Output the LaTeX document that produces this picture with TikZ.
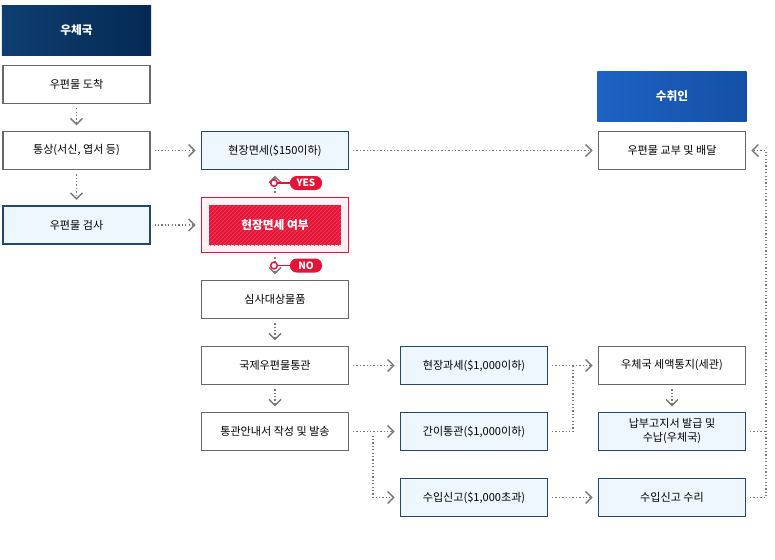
\documentclass[tikz,border=0pt]{standalone}
\usepackage{fontspec}
\setmainfont{Noto Sans CJK KR}
\usetikzlibrary{arrows.meta,patterns}

\begin{document}
\begin{tikzpicture}[x=0.75pt,y=-0.75pt,
  every node/.style={font=\fontsize{8.3}{10.5}\selectfont},
  plainbox/.style={draw=boxgray,line width=1.1pt,fill=white,minimum width=110pt,minimum height=28.5pt,inner sep=0pt,align=center},
  bluebox/.style={plainbox,draw=boxnavy,fill=paleblue},
  headbox/.style={minimum width=112pt,minimum height=37pt,inner sep=0pt,text=white,font=\fontsize{8.8}{10.5}\selectfont\bfseries},
  dotline/.style={draw=dotgray,line width=0.95pt,dash pattern=on 0.95pt off 1.6pt,shorten <=3pt},
  flow/.style={dotline,-{Straight Barb[length=4.5pt,width=9pt,line width=1.1pt]},shorten >=4pt},
  pill/.style={fill=signred,text=white,rounded corners=5pt,minimum width=24pt,minimum height=10.5pt,inner sep=0pt,font=\fontsize{7.5}{9}\selectfont\bfseries},
  ring/.style={circle,draw=signred,line width=1.1pt,fill=white,minimum size=5pt,inner sep=0pt}]
  \definecolor{boxgray}{RGB}{105,105,105}
  \definecolor{boxnavy}{RGB}{36,70,112}
  \definecolor{paleblue}{RGB}{238,247,254}
  \definecolor{dotgray}{RGB}{120,120,120}
  \definecolor{signred}{RGB}{226,20,55}
  \definecolor{stripered}{RGB}{240,70,95}
  \definecolor{palered}{RGB}{253,240,243}
  \definecolor{navyA}{RGB}{14,62,112}
  \definecolor{navyB}{RGB}{5,42,84}
  \definecolor{blueA}{RGB}{30,98,196}
  \definecolor{blueB}{RGB}{20,80,166}
  \useasboundingbox (0,0) rectangle (775,560);

  % post office column
  \node[headbox,left color=navyA,right color=navyB] (posthead) at (76.5,30.5) {우체국};
  \node[plainbox] (arrive) at (76.5,84.5) {우편물 도착};
  \node[plainbox] (tongsang) at (76.5,150.5) {통상(서신, 엽서 등)};
  \node[bluebox] (inspect) at (76.5,225) {우편물 검사};

  % inspection column
  \node[bluebox] (exempt) at (275,150.5) {현장면세(\$150이하)};
  \node[draw=signred,line width=1.1pt,fill=palered,minimum width=110pt,minimum height=41.5pt] (decide) at (275,225) {};
  \node[preaction={fill=signred},pattern=north east lines,pattern color=stripered,minimum width=99pt,minimum height=30pt,text=white,font=\fontsize{8.8}{10.5}\selectfont\bfseries] (decidein) at (decide) {현장면세 여부};
  \node[plainbox] (review) at (275,299.5) {심사대상물품};
  \node[plainbox] (customs) at (275,365.5) {국제우편물통관};
  \node[plainbox] (notice) at (275,431.5) {통관안내서 작성 및 발송};

  % clearance column
  \node[bluebox] (taxsite) at (474,365.5) {현장과세(\$1,000이하)};
  \node[bluebox] (simple) at (474,431.5) {간이통관(\$1,000이하)};
  \node[bluebox] (declare) at (474,497.5) {수입신고(\$1,000초과)};

  % recipient column
  \node[headbox,left color=blueA,right color=blueB] (recvhead) at (672,96.5) {수취인};
  \node[plainbox] (deliver) at (672,150.5) {우편물 교부 및 배달};
  \node[plainbox] (taxnote) at (672,365.5) {우체국 세액통지(세관)};
  \node[bluebox] (payment) at (672,431.5) {납부고지서 발급 및\\수납(우체국)};
  \node[bluebox] (accept) at (672,497.5) {수입신고 수리};

  \coordinate (lsplit) at (373,431.5);
  \coordinate (mjoin) at (573,365.5);
  \coordinate (rloop) at (766,150.5);

  \draw[flow] (arrive) -- (tongsang);
  \draw[flow] (tongsang) -- (inspect);
  \draw[flow] (tongsang) -- (exempt);
  \draw[flow] (inspect) -- (decide);
  \draw[flow] (exempt) -- (deliver);
  \draw[flow] (decide) -- (exempt);
  \draw[flow] (decide) -- (review);
  \draw[flow] (review) -- (customs);
  \draw[flow] (customs) -- (notice);
  \draw[flow] (customs) -- (taxsite);
  \draw[flow] (notice) -- (simple);
  \draw[flow] (lsplit) |- (declare);
  \draw[flow] (taxsite) -- (taxnote);
  \draw[dotline] (simple.east) -| (mjoin);
  \draw[flow] (taxnote) -- (payment);
  \draw[flow] (declare) -- (accept);
  \draw[dotline] (payment.east) -- (payment.east -| rloop);
  \draw[flow] (accept.east) -| (rloop) -- (deliver.east);

  % yes / no signs
  \node[pill] (yes) at (306,183) {YES};
  \node[ring] (yesdot) at (274,183) {};
  \draw[signred,line width=1.1pt] (yesdot) -- (yes);
  \node[pill] (no) at (306,265.5) {NO};
  \node[ring] (nodot) at (274,265.5) {};
  \draw[signred,line width=1.1pt] (nodot) -- (no);
\end{tikzpicture}
\end{document}
